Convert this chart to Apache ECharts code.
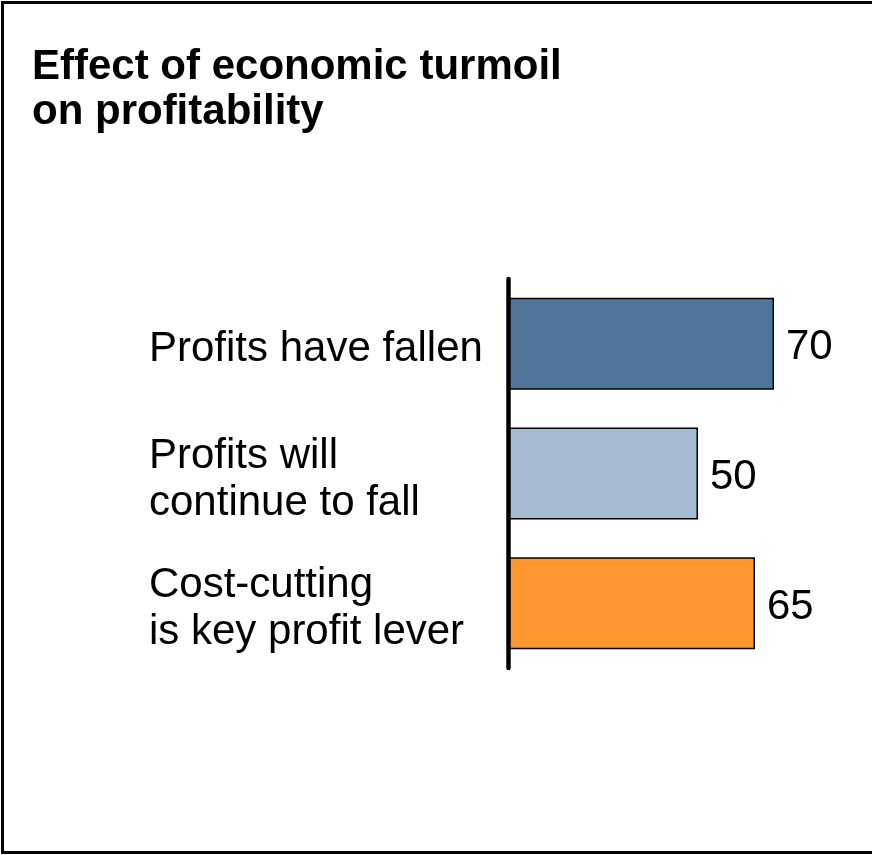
<!DOCTYPE html>
<html>
<head>
<meta charset="utf-8">
<title>Effect of economic turmoil on profitability</title>
<script src="https://cdn.jsdelivr.net/npm/echarts@6/dist/echarts.min.js"></script>
<style>
  html, body { margin: 0; padding: 0; background: #ffffff; }
  #chart { width: 872px; height: 855px; }
</style>
</head>
<body>
<div id="chart"></div>
<script>
// Survey answers, one bar per statement
const categories = [
  'Profits have fallen',
  'Profits will\ncontinue to fall',
  'Cost-cutting\nis key profit lever'
];
const values = [70, 50, 65];
const barColors = ['#50759b', '#a6bbd2', '#fd962f'];

const chart = echarts.init(document.getElementById('chart'), null, { renderer: 'canvas' });

const fontFamily = '"Liberation Sans", Arial, Helvetica, sans-serif';

// Plot area; the label grid sits a few pixels lower so the statements
// line up with the optical centre of each bar
const plot = { left: 508, top: 279, width: 342, height: 389 };
const labelDrop = 6;

chart.setOption({
  backgroundColor: '#ffffff',
  animation: false,
  title: {
    text: 'Effect of economic turmoil\non profitability',
    left: 27,
    top: 40,
    textStyle: {
      fontFamily: fontFamily,
      fontSize: 42,
      fontWeight: 'bold',
      color: '#000000',
      lineHeight: 45
    }
  },
  graphic: [{
    type: 'rect',
    shape: { x: 2.5, y: 2.5, width: 880, height: 850 },
    style: { fill: 'none', stroke: '#000000', lineWidth: 3 },
    silent: true,
    z: 100
  }],
  grid: [
    { left: plot.left, top: plot.top, width: plot.width, height: plot.height },
    { left: plot.left, top: plot.top + labelDrop, width: plot.width, height: plot.height }
  ],
  xAxis: [
    { type: 'value', gridIndex: 0, min: 0, max: 90, show: false },
    { type: 'value', gridIndex: 1, min: 0, max: 90, show: false }
  ],
  yAxis: [
    {
      type: 'category',
      gridIndex: 0,
      data: categories,
      inverse: true,
      z: 5,
      axisLine: {
        show: true,
        lineStyle: { color: '#000000', width: 4.5, cap: 'round' }
      },
      axisTick: { show: false },
      splitLine: { show: false },
      axisLabel: { show: false }
    },
    {
      type: 'category',
      gridIndex: 1,
      data: categories,
      inverse: true,
      axisLine: { show: false },
      axisTick: { show: false },
      splitLine: { show: false },
      axisLabel: {
        align: 'left',
        margin: 359,
        fontFamily: fontFamily,
        fontSize: 42,
        lineHeight: 47,
        color: '#000000'
      }
    }
  ],
  series: [{
    type: 'bar',
    xAxisIndex: 0,
    yAxisIndex: 0,
    barWidth: 92,
    data: values.map((v, i) => ({
      value: v,
      itemStyle: { color: barColors[i] }
    })),
    itemStyle: {
      borderColor: '#000000',
      borderWidth: 1.5
    },
    label: {
      show: true,
      position: 'right',
      distance: 12,
      offset: [0, labelDrop - 2],
      fontFamily: fontFamily,
      fontSize: 42,
      color: '#000000'
    }
  }]
});
</script>
</body>
</html>
